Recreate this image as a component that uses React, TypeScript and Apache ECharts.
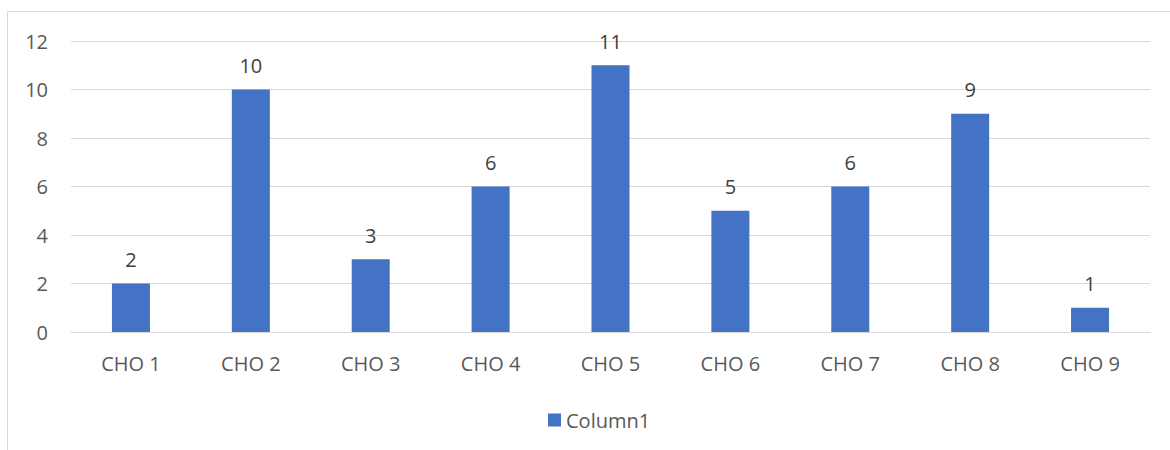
import React, { useEffect, useRef } from "react";
import * as echarts from "echarts";

const categories = ["CHO 1", "CHO 2", "CHO 3", "CHO 4", "CHO 5", "CHO 6", "CHO 7", "CHO 8", "CHO 9"];
const column1 = [2, 10, 3, 6, 11, 5, 6, 9, 1];
const seriesName = "Column1";

const FONT = "'Open Sans', 'Noto Sans', sans-serif";

export default function App() {
  const ref = useRef<HTMLDivElement>(null);
  useEffect(() => {
    if (!ref.current) return;
    const chart = echarts.init(ref.current, null, { renderer: "svg" });
    chart.setOption({
      animation: false,
      backgroundColor: "#ffffff",
      textStyle: { fontFamily: FONT },
      grid: { left: 71, right: 20, top: 41, bottom: 118, containLabel: false },
      graphic: [
        { type: "line", shape: { x1: 7.5, y1: 11.5, x2: 7.5, y2: 450 }, style: { stroke: "#D9D9D9", lineWidth: 1 } },
        { type: "line", shape: { x1: 7.5, y1: 11.5, x2: 1170, y2: 11.5 }, style: { stroke: "#D9D9D9", lineWidth: 1 } },
      ],
      legend: {
        data: [seriesName],
        left: 543,
        top: 405,
        icon: "rect",
        itemWidth: 13,
        itemHeight: 13,
        itemGap: 6,
        textStyle: { color: "#595959", fontSize: 20, fontFamily: FONT },
      },
      xAxis: {
        type: "category",
        data: categories,
        axisTick: { show: false },
        axisLine: { lineStyle: { color: "#D9D9D9", width: 1 } },
        axisLabel: { color: "#595959", fontSize: 20, margin: 21, fontFamily: FONT },
      },
      yAxis: {
        type: "value",
        min: 0,
        max: 12,
        interval: 2,
        axisLine: { show: false },
        axisTick: { show: false },
        splitLine: { lineStyle: { color: "#D9D9D9", width: 1 } },
        axisLabel: { color: "#595959", fontSize: 20, margin: 23, fontFamily: FONT },
      },
      series: [
        {
          name: seriesName,
          type: "bar",
          data: column1,
          barWidth: 38,
          itemStyle: { color: "#4472C4" },
          label: {
            show: true,
            position: "top",
            distance: 14,
            color: "#404040",
            fontSize: 20,
            fontFamily: FONT,
          },
        },
      ],
    });
    return () => chart.dispose();
  }, []);
  return <div ref={ref} style={{ position: "fixed", left: 0, top: 0, width: 1170, height: 450 }} />;
}
